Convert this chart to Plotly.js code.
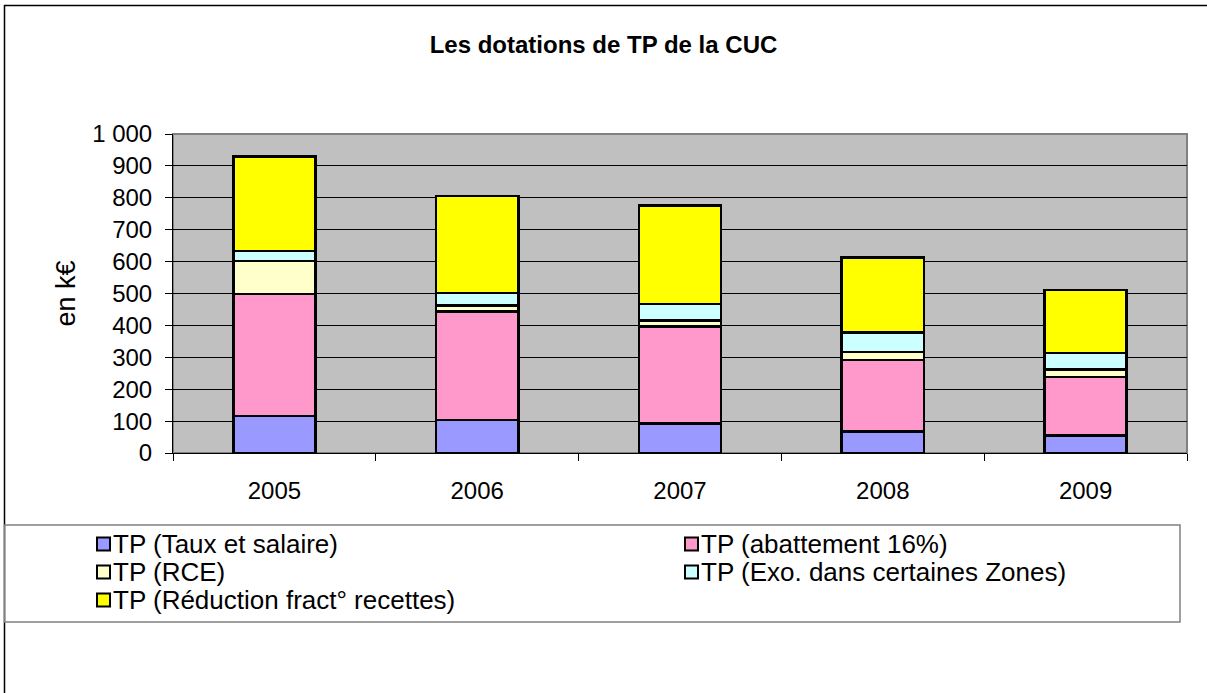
<!DOCTYPE html>
<html>
<head>
<meta charset="utf-8">
<script src="https://cdn.plot.ly/plotly-3.0.1.min.js"></script>
<style>html,body{margin:0;padding:0;background:#fff;}#chart{width:1207px;height:693px;}</style>
</head>
<body>
<div id="chart"></div>
<script>
// ---- data ----
var years = ['2005', '2006', '2007', '2008', '2009'];
var seriesNames = ['TP (Taux et salaire)', 'TP (abattement 16%)', 'TP (RCE)', 'TP (Exo. dans certaines Zones)', 'TP (Réduction fract° recettes)'];
var tauxSalaire = [116, 103, 93, 67, 55];
var abattement16 = [382, 340, 303, 225, 184];
var rce = [104, 19, 19, 25, 23];
var exoZones = [31, 40, 52, 61, 52];
var reductionRecettes = [296, 304, 309, 235, 197];
var seriesColors = ['#9999FF', '#FF99CC', '#FFFFCC', '#CCFFFF', '#FFFF00'];
var yTickVals = [0, 100, 200, 300, 400, 500, 600, 700, 800, 900, 1000];
var yTickText = ['0', '100', '200', '300', '400', '500', '600', '700', '800', '900', '1 000'];

var seriesValues = [tauxSalaire, abattement16, rce, exoZones, reductionRecettes];

// ---- layout geometry (pixels) ----
var W = 1207, H = 693;
var L = 173, R = 1187, T = 134, B = 453;
function px2x(px) { return (px - L) / (R - L); }
function py2y(py) { return (B - py) / (B - T); }

var FONT = 'Liberation Sans, Arial, sans-serif';

var traces = seriesValues.map(function (vals, i) {
  return {
    type: 'bar',
    name: seriesNames[i],
    x: years,
    y: vals,
    marker: { color: seriesColors[i], line: { color: '#000', width: 2.5 } },
    showlegend: false,
    hoverinfo: 'x+y+name'
  };
});

var shapes = [
  // outer chart frame (extends beyond the picture at right and bottom)
  { type: 'rect', xref: 'paper', yref: 'paper', x0: px2x(4.5), x1: px2x(1230), y0: py2y(720), y1: py2y(5.5),
    line: { color: '#000', width: 1.5 }, fillcolor: 'rgba(0,0,0,0)', layer: 'above' },
  // plot area border (gray)
  { type: 'rect', xref: 'paper', yref: 'paper', x0: 0, x1: 1, y0: 0, y1: 1,
    line: { color: '#808080', width: 2 }, fillcolor: 'rgba(0,0,0,0)', layer: 'below' },
  // legend box
  { type: 'rect', xref: 'paper', yref: 'paper', x0: px2x(4.5), x1: px2x(1180), y0: py2y(622), y1: py2y(525),
    line: { color: '#808080', width: 1.5 }, fillcolor: 'rgba(0,0,0,0)', layer: 'above' }
];

var annotations = [];
var legCols = [97, 685];
var legRows = [544, 572, 600];
for (var i = 0; i < seriesNames.length; i++) {
  var cx = legCols[i % 2];
  var cy = legRows[Math.floor(i / 2)];
  shapes.push({ type: 'rect', xref: 'paper', yref: 'paper',
    x0: px2x(cx), x1: px2x(cx + 13), y0: py2y(cy + 6.5), y1: py2y(cy - 6.5),
    line: { color: '#000', width: 2 }, fillcolor: seriesColors[i], layer: 'above' });
  annotations.push({ xref: 'paper', yref: 'paper', x: px2x(cx + 14), y: py2y(cy),
    xanchor: 'left', yanchor: 'middle', showarrow: false, text: seriesNames[i],
    font: { family: FONT, size: 26, color: '#000' } });
}

var layout = {
  width: W, height: H,
  margin: { l: L, r: W - R, t: T, b: H - B, pad: 0 },
  paper_bgcolor: '#fff',
  plot_bgcolor: '#C0C0C0',
  barmode: 'stack',
  bargap: 0.595,
  font: { family: FONT, size: 24, color: '#000' },
  title: { text: '<b>Les dotations de TP de la CUC</b>', x: 0.5, xref: 'container', xanchor: 'center',
    y: 1 - 45 / H, yref: 'container', yanchor: 'middle', font: { family: FONT, size: 24, color: '#000' } },
  xaxis: {
    type: 'category', showgrid: false, zeroline: false,
    showline: true, linecolor: '#000', linewidth: 1,
    ticks: 'outside', tickson: 'boundaries', ticklen: 7, tickcolor: '#000', tickwidth: 1,
    ticklabelstandoff: 16,
    tickfont: { family: FONT, size: 24, color: '#000' }
  },
  yaxis: {
    range: [0, 1000], tickvals: yTickVals, ticktext: yTickText,
    showgrid: true, gridcolor: '#000', gridwidth: 1, zeroline: false,
    showline: true, linecolor: '#000', linewidth: 1,
    ticks: 'outside', ticklen: 7, tickcolor: '#000', tickwidth: 1,
    ticklabelstandoff: 8,
    tickfont: { family: FONT, size: 24, color: '#000' },
    title: { text: 'en k€', standoff: 8, font: { family: FONT, size: 27, color: '#000' } }
  },
  shapes: shapes,
  annotations: annotations,
  showlegend: false
};

Plotly.newPlot('chart', traces, layout, { displayModeBar: false, staticPlot: true });
</script>
</body>
</html>
